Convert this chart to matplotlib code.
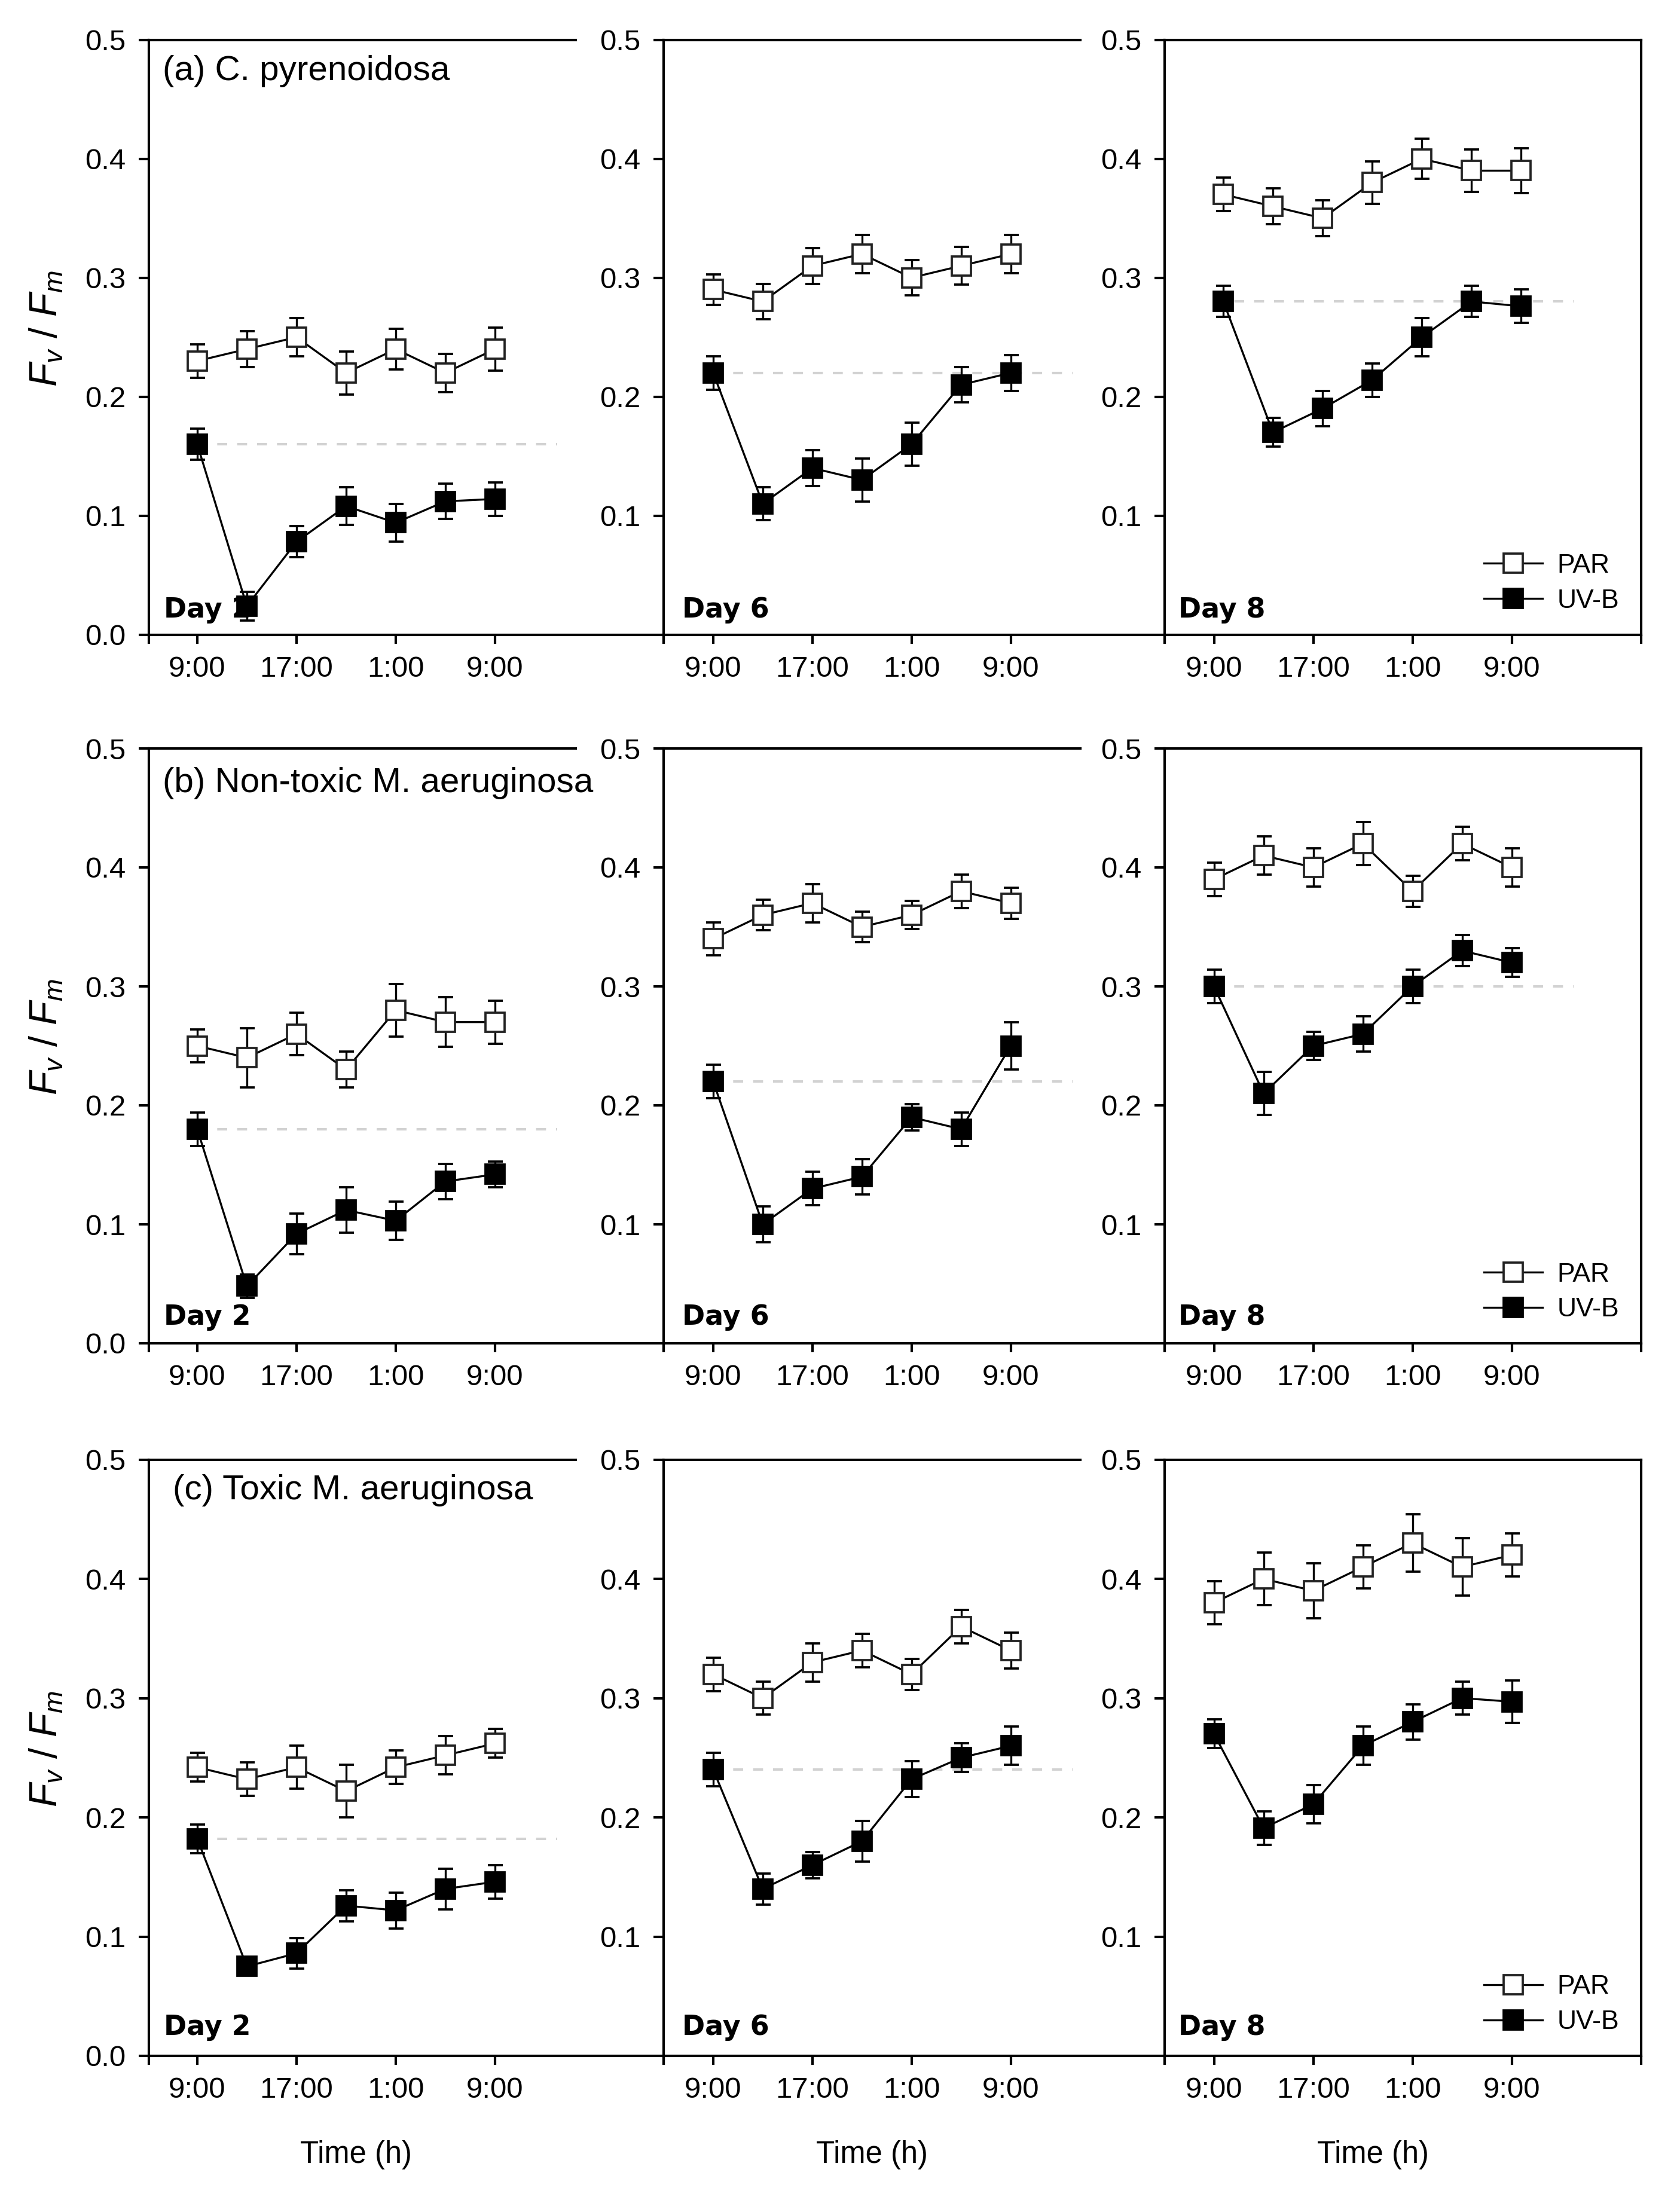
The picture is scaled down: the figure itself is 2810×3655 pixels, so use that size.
import numpy as np
import matplotlib.pyplot as plt

plt.rcParams['font.family'] = ['Liberation Sans', 'DejaVu Sans']
plt.rcParams['mathtext.fontset'] = 'custom'
plt.rcParams['mathtext.it'] = 'Liberation Sans:italic'
plt.rcParams['mathtext.rm'] = 'Liberation Sans'

# sampling times (h after 9:00)
hours = [0, 4, 8, 12, 16, 20, 24]
tick_hours = [0, 8, 16, 24]
tick_labels = ['9:00', '17:00', '1:00', '9:00']
days = ['Day 2', 'Day 6', 'Day 8']
species = ['(a) C. pyrenoidosa', '(b) Non-toxic M. aeruginosa', '(c) Toxic M. aeruginosa']
# sampling delay per panel (h); Day 8 of (a) was measured a bit later
time_shift = [[0, 0, 0.75], [0, 0, 0], [0, 0, 0]]

# (a) C. pyrenoidosa
par_a = [[0.23, 0.24, 0.25, 0.22, 0.24, 0.22, 0.24],
         [0.29, 0.28, 0.31, 0.32, 0.30, 0.31, 0.32],
         [0.37, 0.36, 0.35, 0.38, 0.40, 0.39, 0.39]]
par_a_err = [[0.014, 0.015, 0.016, 0.018, 0.017, 0.016, 0.018],
             [0.013, 0.015, 0.015, 0.016, 0.015, 0.016, 0.016],
             [0.014, 0.015, 0.015, 0.018, 0.017, 0.018, 0.019]]
uvb_a = [[0.16, 0.024, 0.078, 0.108, 0.094, 0.112, 0.114],
         [0.22, 0.11, 0.14, 0.13, 0.16, 0.21, 0.22],
         [0.28, 0.17, 0.19, 0.214, 0.25, 0.28, 0.276]]
uvb_a_err = [[0.013, 0.012, 0.013, 0.016, 0.016, 0.015, 0.014],
             [0.014, 0.014, 0.015, 0.018, 0.018, 0.015, 0.015],
             [0.013, 0.012, 0.015, 0.014, 0.016, 0.013, 0.014]]

# (b) non-toxic M. aeruginosa
par_b = [[0.25, 0.24, 0.26, 0.23, 0.28, 0.27, 0.27],
         [0.34, 0.36, 0.37, 0.35, 0.36, 0.38, 0.37],
         [0.39, 0.41, 0.40, 0.42, 0.38, 0.42, 0.40]]
par_b_err = [[0.014, 0.025, 0.018, 0.015, 0.022, 0.021, 0.018],
             [0.014, 0.013, 0.016, 0.013, 0.012, 0.014, 0.013],
             [0.014, 0.016, 0.016, 0.018, 0.013, 0.014, 0.016]]
uvb_b = [[0.18, 0.048, 0.092, 0.112, 0.103, 0.136, 0.142],
         [0.22, 0.10, 0.13, 0.14, 0.19, 0.18, 0.25],
         [0.30, 0.21, 0.25, 0.26, 0.30, 0.33, 0.32]]
uvb_b_err = [[0.014, 0.010, 0.017, 0.019, 0.016, 0.015, 0.011],
             [0.014, 0.015, 0.014, 0.015, 0.011, 0.014, 0.020],
             [0.014, 0.018, 0.012, 0.015, 0.014, 0.013, 0.012]]

# (c) toxic M. aeruginosa
par_c = [[0.242, 0.232, 0.242, 0.222, 0.242, 0.252, 0.262],
         [0.32, 0.30, 0.33, 0.34, 0.32, 0.36, 0.34],
         [0.38, 0.40, 0.39, 0.41, 0.43, 0.41, 0.42]]
par_c_err = [[0.012, 0.014, 0.018, 0.022, 0.014, 0.016, 0.012],
             [0.014, 0.014, 0.016, 0.014, 0.013, 0.014, 0.015],
             [0.018, 0.022, 0.023, 0.018, 0.024, 0.024, 0.018]]
uvb_c = [[0.182, 0.075, 0.086, 0.126, 0.122, 0.14, 0.146],
         [0.24, 0.14, 0.16, 0.18, 0.232, 0.25, 0.26],
         [0.27, 0.191, 0.211, 0.26, 0.28, 0.30, 0.297]]
uvb_c_err = [[0.012, 0.005, 0.013, 0.013, 0.015, 0.017, 0.014],
             [0.014, 0.013, 0.011, 0.017, 0.015, 0.012, 0.016],
             [0.012, 0.014, 0.016, 0.016, 0.015, 0.014, 0.018]]

par = [par_a, par_b, par_c]
par_err = [par_a_err, par_b_err, par_c_err]
uvb = [uvb_a, uvb_b, uvb_c]
uvb_err = [uvb_a_err, uvb_b_err, uvb_c_err]
# dashed reference line at initial UV-B level
show_ref = [[True, True, True], [True, True, True], [True, True, False]]

# layout in pixels of the 2810 x 3655 image
W, H = 2810, 3655
col_left = [249, 1110, 1947.6]
col_right = [1110, 1947.6, 2744.5]
xlims = [(-3.9, 37.6), (-4.0, 36.4), (-4.0, 34.4)]
top_end = [30.5, 29.6]
row_top = [66.6, 1252, 2441.6]
row_bottom = [1061.5, 2247, 3439]
title_pos = [(0.027, 0.932), (0.027, 0.927), (0.047, 0.933)]
day_x = [0.029, 0.037, 0.029]
day_y = [0.029, 0.031, 0.035]

fig = plt.figure(figsize=(W / 300, H / 300), dpi=300)

for r in range(3):
    for c in range(3):
        ax = fig.add_axes([col_left[c] / W, 1 - row_bottom[r] / H,
                           (col_right[c] - col_left[c]) / W,
                           (row_bottom[r] - row_top[r]) / H])
        ax.set_xlim(xlims[c])
        ax.set_ylim(0, 0.5)
        x = np.array(hours) + time_shift[r][c]

        if show_ref[r][c]:
            ax.plot([0, 29], [uvb[r][c][0]] * 2, color='#d2d2d2', lw=1.0,
                    ls=(0, (4, 4)), zorder=1)

        eb_par = ax.errorbar(x, par[r][c], yerr=par_err[r][c], fmt='-s',
                             color='black', mfc='white', mec='#222222', ms=7.5,
                             mew=0.9, lw=0.8, elinewidth=0.8, capsize=3,
                             capthick=0.8, zorder=3)
        eb_uvb = ax.errorbar(x, uvb[r][c], yerr=uvb_err[r][c], fmt='-s',
                             color='black', mfc='black', mec='black', ms=7.5,
                             mew=0.9, lw=0.8, elinewidth=0.8, capsize=3,
                             capthick=0.8, zorder=3)

        ax.set_xticks(tick_hours)
        ax.set_xticklabels(tick_labels)
        ax.set_xticks([xlims[c][0], xlims[c][1]], minor=True)
        if c == 0:
            ax.set_yticks([0.0, 0.1, 0.2, 0.3, 0.4, 0.5])
            ax.set_yticklabels(['0.0', '0.1', '0.2', '0.3', '0.4', '0.5'])
        else:
            ax.set_yticks([0.1, 0.2, 0.3, 0.4, 0.5])
            ax.set_yticklabels(['0.1', '0.2', '0.3', '0.4', '0.5'])
        ax.tick_params(axis='y', direction='out', length=4.2, width=1, pad=5,
                       labelsize=11.8)
        ax.tick_params(axis='x', which='both', direction='out', length=3.5,
                       width=1, pad=5, labelsize=11.8)

        for s in ax.spines.values():
            s.set_linewidth(1)
        if c < 2:
            ax.spines['right'].set_visible(False)
            ax.spines['top'].set_bounds(xlims[c][0], top_end[c])
        ax.patch.set_alpha(0)

        ax.text(day_x[c], day_y[r], days[c], transform=ax.transAxes,
                fontsize=11, fontweight='bold', family=['DejaVu Sans'],
                va='baseline', ha='left', zorder=1)

        if c == 0:
            ax.text(title_pos[r][0], title_pos[r][1], species[r],
                    transform=ax.transAxes, fontsize=14, va='baseline',
                    ha='left')
        if c == 2:
            ax.legend(handles=[eb_par.lines[0], eb_uvb.lines[0]],
                      labels=['PAR', 'UV-B'], loc='center left',
                      bbox_to_anchor=(0.67, 0.086), frameon=False,
                      fontsize=10.7, handlelength=2.2, handletextpad=0.55,
                      labelspacing=0.4, borderpad=0, borderaxespad=0,
                      numpoints=1)
        if r == 2:
            ax.text(12.8, 0.0138, 'Time (h)', fontsize=12.2, ha='center',
                    va='center',
                    transform=ax.get_xaxis_transform().__class__(
                        ax.transData, fig.transFigure))

    yc = 1 - (row_top[r] + row_bottom[r]) / 2 / H
    fig.text(0.028, yc + 0.004, r'$F_v\ /\ F_m$', rotation=90, ha='center',
             va='center', fontsize=15.5)

fig.savefig('out.png', dpi=300, facecolor='white')
